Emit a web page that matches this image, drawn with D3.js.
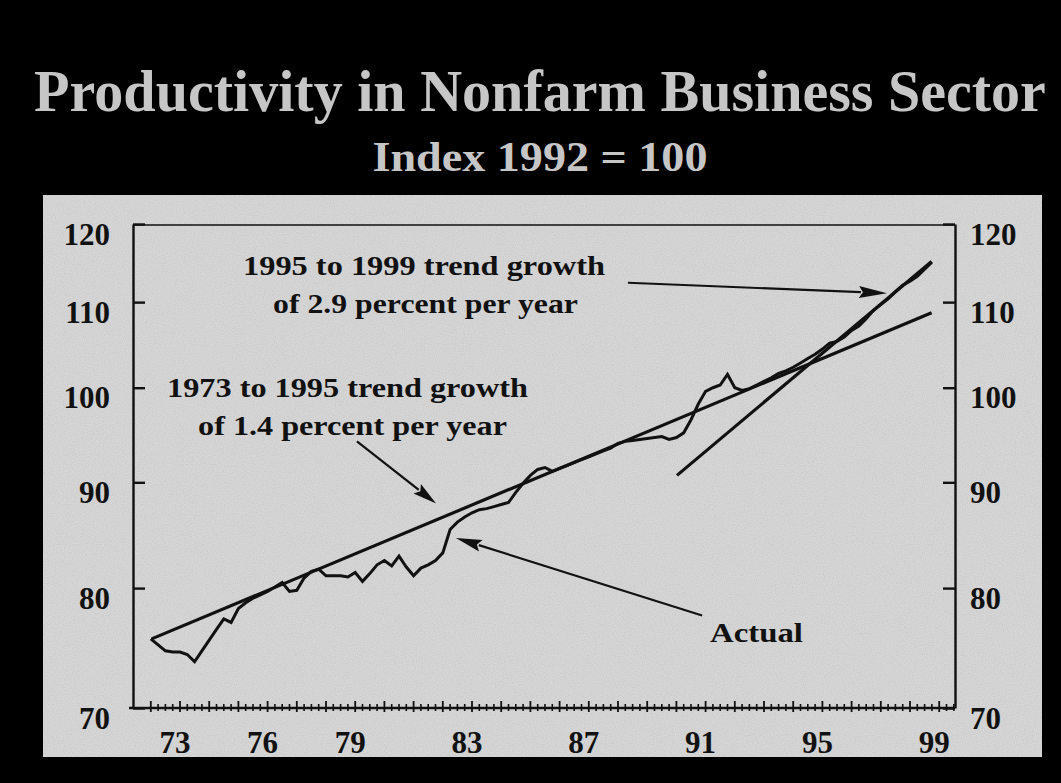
<!DOCTYPE html>
<html>
<head>
<meta charset="utf-8">
<script src="https://cdn.jsdelivr.net/npm/d3@7"></script>
<style>
  html, body { margin: 0; padding: 0; background: #000; }
  svg { display: block; }
  text { font-family: "Liberation Serif", "Times New Roman", serif; font-weight: bold; }
</style>
</head>
<body>
<svg id="chart" width="1061" height="783"></svg>
<script>
// ---------------- DATA ----------------
const titleText = "Productivity in Nonfarm Business Sector";
const subtitleText = "Index 1992 = 100";

// Quarterly productivity index, 1972Q1 .. 1998Q4
const firstQuarterYear = 1972;
const productivity = [
  75.6, 75.1, 74.6, 74.5,   // 1972
  74.5, 74.3, 73.7, 74.6,   // 1973
  75.5, 76.4, 77.3, 77.0,   // 1974
  78.2, 78.7, 79.1, 79.4,   // 1975
  79.7, 80.1, 80.5, 79.7,   // 1976
  79.8, 80.9, 81.5, 81.7,   // 1977
  81.1, 81.1, 81.1, 81.0,   // 1978
  81.4, 80.6, 81.3, 82.1,   // 1979
  82.5, 82.0, 82.9, 81.9,   // 1980
  81.1, 81.8, 82.1, 82.5,   // 1981
  83.2, 85.4, 86.1, 86.6,   // 1982
  87.0, 87.3, 87.4, 87.6,   // 1983
  87.8, 88.0, 89.0, 89.9,   // 1984
  90.7, 91.3, 91.5, 91.1,   // 1985
  91.4, 91.7, 92.0, 92.3,   // 1986
  92.6, 92.9, 93.2, 93.5,   // 1987
  94.0, 94.2, 94.3, 94.4,   // 1988
  94.5, 94.6, 94.7, 94.4,   // 1989
  94.6, 95.1, 96.5, 98.2,   // 1990
  99.6, 100.0, 100.3, 101.5, // 1991
  100.0, 99.7, 99.9, 100.3, // 1992
  100.7, 101.1, 101.6, 101.9, // 1993
  102.3, 102.8, 103.3, 103.8, // 1994
  104.4, 105.1, 105.3, 105.8, // 1995
  106.6, 107.1, 108.0, 109.0, // 1996
  109.7, 110.4, 111.3, 112.1, // 1997
  112.6, 113.2, 114.1, 115.0  // 1998
];

// Trend lines: endpoints [year, index]
const trend1973_1995 = [[1972.03, 75.6], [1998.74, 108.7]];
const trend1995_1999 = [[1990.02, 90.7], [1998.74, 115.1]];

// Axis ticks
const yTicks = [70, 80, 90, 100, 110, 120];
const xLabelYears = [1973, 1976, 1979, 1983, 1987, 1991, 1995, 1999];
const xLabels = ["73", "76", "79", "83", "87", "91", "95", "99"];
const xMajorYears = d3.range(1972, 2000);

// Annotations (text lines) and arrows [from, to] in [year, index]
const annoTrend2 = ["1995 to 1999 trend growth", "of 2.9 percent per year"];
const annoTrend1 = ["1973 to 1995 trend growth", "of 1.4 percent per year"];
const annoActual = ["Actual"];
const arrowTrend2 = [[1988.34, 112.4], [1997.21, 111.1]];
const arrowTrend1 = [[1979.06, 94.2], [1981.77, 87.9]];
const arrowActual = [[1990.88, 77.6], [1982.45, 84.6]];

// ---------------- DRAW ----------------
(function draw() {
const svg = d3.select("#chart");

const W = 1061, H = 783;
svg.append("rect").attr("width", W).attr("height", H).attr("fill", "#000");

// panel
const defs = svg.append("defs");
const f = defs.append("filter").attr("id", "grain").attr("x", 0).attr("y", 0).attr("width", 1).attr("height", 1);
f.append("feTurbulence").attr("type", "fractalNoise").attr("baseFrequency", 0.9).attr("numOctaves", 1).attr("seed", 3).attr("result", "n");
f.append("feColorMatrix").attr("in", "n").attr("type", "matrix")
  .attr("values", "0 0 0 0 0  0 0 0 0 0  0 0 0 0 0  0 0 0 -1.2 0.75").attr("result", "a");
f.append("feComposite").attr("in", "SourceGraphic").attr("in2", "a").attr("operator", "in");

svg.append("rect").attr("x", 43).attr("y", 195).attr("width", 999).attr("height", 562).attr("fill", "#d6d6d6");
svg.append("rect").attr("x", 43).attr("y", 195).attr("width", 999).attr("height", 562)
  .attr("fill", "#9a9a9a").attr("filter", "url(#grain)").attr("opacity", 0.35);

// text fitted to a target width by horizontal scaling (keeps bbox honest)
function fitText(parent, str, cx, baseline, size, width, fill) {
  const g = parent.append("g");
  const t = g.append("text").attr("x", 0).attr("y", 0).attr("text-anchor", "middle")
    .attr("font-size", size).attr("fill", fill).text(str);
  const w = t.node().getComputedTextLength();
  const s = width / w;
  g.attr("transform", `translate(${cx},${baseline}) scale(${s},1)`);
  return g;
}

// title
fitText(svg, titleText, 540, 111, 60, 1012, "#c6c6c6");
fitText(svg, subtitleText, 540, 171, 42, 335, "#c6c6c6");

// scales
const pL = 133, pR = 955, pT = 224, pB = 708;
const x = d3.scaleLinear().domain([1973, 1999]).range([180, 939.2]);
const y = d3.scaleLog().domain([70, 120]).range([pB, pT]);

const ink = "#111";

// frame top
svg.append("line").attr("x1", pL).attr("x2", pR).attr("y1", pT + 1).attr("y2", pT + 1)
  .attr("stroke", ink).attr("stroke-width", 1.6);

// left axis
const gL = svg.append("g").attr("transform", `translate(${pL},0)`)
  .call(d3.axisLeft(y).tickValues(yTicks).tickFormat(d3.format("d")).tickSizeInner(-12).tickSizeOuter(0).tickPadding(23));
gL.select(".domain").attr("stroke", ink).attr("stroke-width", 2.4);
gL.selectAll(".tick line").attr("stroke", ink).attr("stroke-width", 2.4);
gL.selectAll(".tick text").attr("font-size", 31).attr("fill", ink).attr("dy", 20)
  .style("font-family", "Liberation Serif").style("font-weight", "bold");

// right axis
const gR = svg.append("g").attr("transform", `translate(${pR},0)`)
  .call(d3.axisRight(y).tickValues(yTicks).tickFormat(d3.format("d")).tickSizeInner(-12).tickSizeOuter(0).tickPadding(15));
gR.select(".domain").attr("stroke", ink).attr("stroke-width", 2.4);
gR.selectAll(".tick line").attr("stroke", ink).attr("stroke-width", 2.4);
gR.selectAll(".tick text").attr("font-size", 31).attr("fill", ink).attr("dy", 20)
  .style("font-family", "Liberation Serif").style("font-weight", "bold");

// bottom axis
svg.append("line").attr("x1", pL - 4).attr("x2", pR).attr("y1", pB).attr("y2", pB)
  .attr("stroke", ink).attr("stroke-width", 2.4);
const quarters = [];
xMajorYears.forEach(yr => { [0.25, 0.5, 0.75].forEach(q => { if (yr + q <= 1999.5) quarters.push(yr + q); }); });
svg.append("g").selectAll("line").data(quarters).join("line")
  .attr("x1", d => x(d)).attr("x2", d => x(d)).attr("y1", pB - 4).attr("y2", pB + 3)
  .attr("stroke", ink).attr("stroke-width", 1.6);
svg.append("g").selectAll("line").data(xMajorYears).join("line")
  .attr("x1", d => x(d)).attr("x2", d => x(d)).attr("y1", pB - 7).attr("y2", pB + 4)
  .attr("stroke", ink).attr("stroke-width", 1.8);
svg.append("g").selectAll("text").data(xLabelYears).join("text")
  .attr("x", d => x(d) - 5).attr("y", 753).attr("text-anchor", "middle")
  .attr("font-size", 31).attr("fill", ink).text((d, i) => xLabels[i]);

// lines
const line = d3.line().x(d => x(d[0])).y(d => y(d[1]));
const actual = productivity.map((v, i) => [firstQuarterYear + i / 4, v]);

svg.append("path").datum(trend1973_1995).attr("d", line).attr("fill", "none")
  .attr("stroke", ink).attr("stroke-width", 3.2);
svg.append("path").datum(trend1995_1999).attr("d", line).attr("fill", "none")
  .attr("stroke", ink).attr("stroke-width", 3.2);
svg.append("path").datum(actual).attr("d", line).attr("fill", "none")
  .attr("stroke", ink).attr("stroke-width", 3).attr("stroke-linejoin", "miter");

// annotations
function annotate(lines, cx, baseline, widths) {
  lines.forEach((t, i) => fitText(svg, t, cx[i], baseline[i], 28, widths[i], ink));
}
annotate(annoTrend2, [424, 425.5], [275, 313], [362, 305]);
annotate(annoTrend1, [347.5, 352.5], [397, 435], [361, 309]);
annotate(annoActual, [756.5], [642], [93]);

function arrow(pts, headLen, halfW) {
  const [p0, p1] = pts.map(p => [x(p[0]), y(p[1])]);
  const dx = p1[0] - p0[0], dy = p1[1] - p0[1];
  const L = Math.hypot(dx, dy), ux = dx / L, uy = dy / L;
  const bx = p1[0] - ux * headLen, by = p1[1] - uy * headLen;
  svg.append("line").attr("x1", p0[0]).attr("y1", p0[1]).attr("x2", bx + ux * 2).attr("y2", by + uy * 2)
    .attr("stroke", ink).attr("stroke-width", 2.2);
  svg.append("polygon")
    .attr("points", [[p1[0], p1[1]], [bx - uy * halfW, by + ux * halfW], [bx + ux * 4, by + uy * 4], [bx + uy * halfW, by - ux * halfW]].map(p => p.join(",")).join(" "))
    .attr("fill", ink);
}
arrow(arrowTrend2, 28, 6);
arrow(arrowTrend1, 24, 6);
arrow(arrowActual, 26, 6);
})();
</script>
</body>
</html>
